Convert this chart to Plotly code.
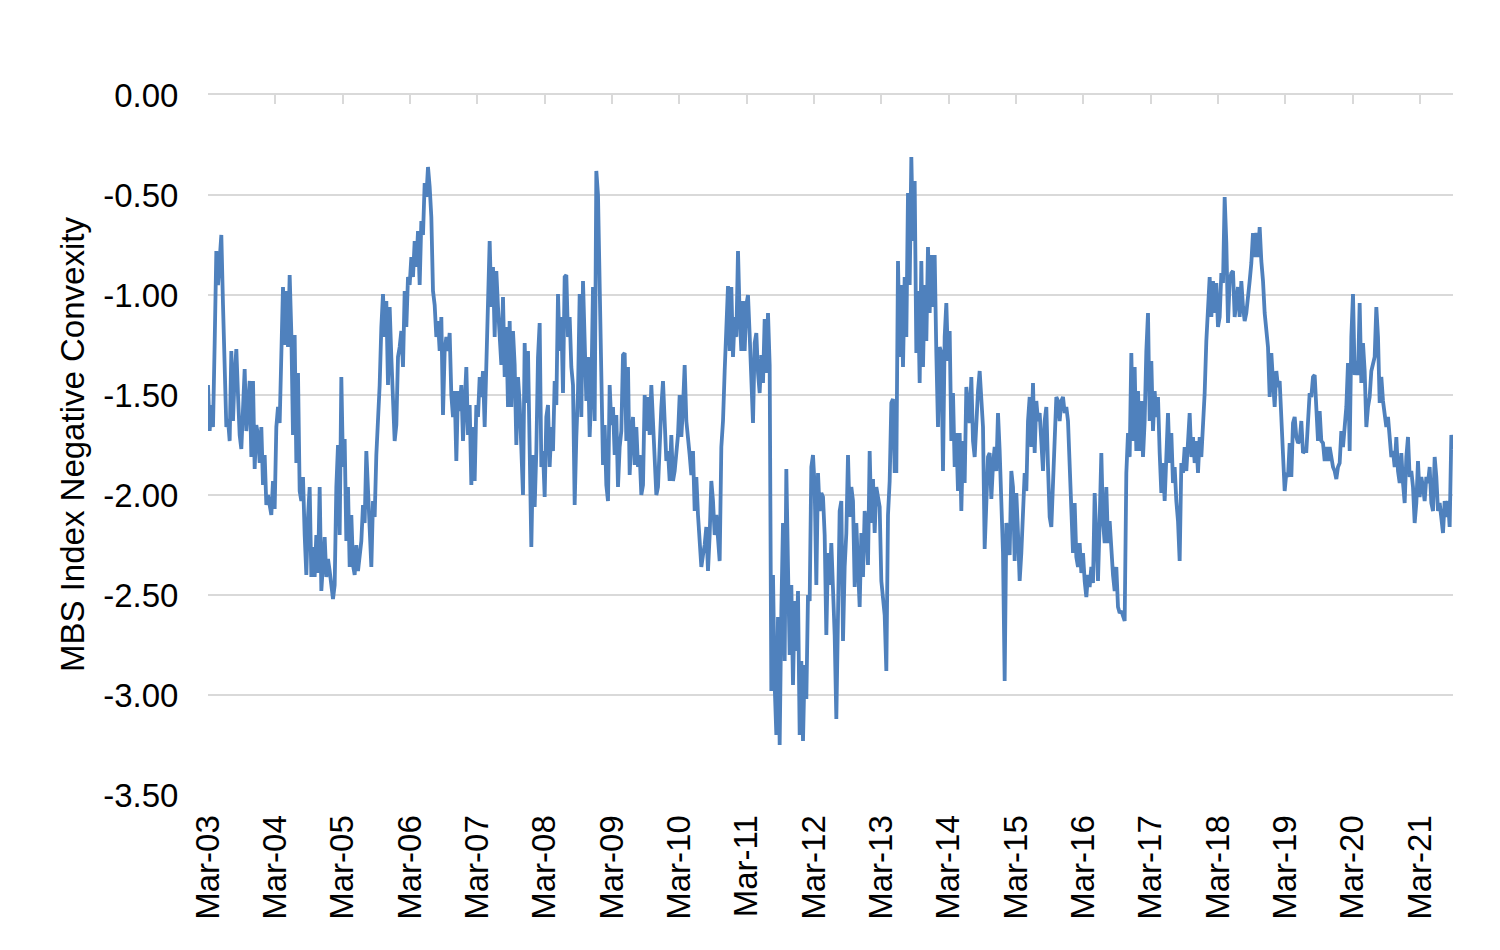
import pandas as pd
import plotly.graph_objects as go

# MBS index negative convexity, sampled every ~9 days from Mar-2003
start_date = "2003-03-01"
step = "217h"

s2003 = [-1.45, -1.68, -1.55, -1.66, -1.24, -0.78, -0.95, -0.80, -0.70, -1.05,
         -1.45, -1.66, -1.62, -1.73, -1.28, -1.63, -1.40, -1.27, -1.50, -1.70,
         -1.77, -1.60, -1.37, -1.68, -1.55, -1.43, -1.81, -1.43, -1.87, -1.65,
         -1.70, -1.84, -1.66, -1.95, -1.80, -2.05, -2.00, -2.06, -2.10, -1.93,
         -2.07, -1.66, -1.56, -1.64, -1.23, -0.96, -1.25, -0.98, -1.26, -0.90,
         -1.19, -1.70, -1.20, -1.84, -1.39, -1.98, -2.03, -1.91, -2.20, -2.40,
         -2.11, -1.96, -2.41, -2.26, -2.41, -2.20, -2.39, -1.96, -2.48, -2.30,
         -2.21, -2.41, -2.32, -2.38, -2.45, -2.52, -2.45, -1.96, -1.75, -2.20,
         -1.41]
s2005 = [-1.86, -1.72, -2.23, -1.96, -2.36, -2.10, -2.35, -2.40, -2.25, -2.38,
         -2.30, -2.23, -2.05, -2.14, -1.78, -1.95, -2.15, -2.36, -2.03, -2.11,
         -1.80, -1.65, -1.45, -1.16, -0.995, -1.21, -1.03, -1.45, -1.06, -1.31,
         -1.55, -1.73, -1.65, -1.31, -1.26, -1.18, -1.36, -0.98, -1.16, -0.91,
         -0.95, -0.81, -0.91, -0.73, -0.86, -0.68, -0.95, -0.63, -0.70, -0.44,
         -0.51, -0.36, -0.46, -0.61, -0.98, -1.05, -1.21, -1.13, -1.28, -1.11,
         -1.60, -1.28, -1.21, -1.28, -1.19, -1.50, -1.61, -1.48, -1.83, -1.48,
         -1.58, -1.45, -1.73, -1.48, -1.36, -1.70, -1.55, -1.95, -1.66, -1.93,
         -1.55]
s2007 = [-1.61, -1.41, -1.51, -1.38, -1.66, -1.33, -1.01, -0.73, -1.06, -0.86,
         -1.21, -0.88, -1.06, -1.25, -1.35, -1.01, -1.41, -1.16, -1.56, -1.13,
         -1.56, -1.18, -1.35, -1.75, -1.41, -1.54, -1.75, -2.00, -1.24, -1.54,
         -1.28, -1.91, -2.26, -1.80, -2.06, -1.78, -1.31, -1.14, -1.86, -1.78,
         -2.01, -1.61, -1.55, -1.86, -1.66, -1.78, -1.43, -1.55, -0.995, -1.28,
         -1.11, -1.49, -0.91, -0.90, -1.21, -1.11, -1.36, -1.45, -2.05, -1.71,
         -1.48, -0.995, -1.61, -0.93, -1.28, -1.53, -1.31, -1.71, -1.48, -0.96,
         -1.63, -0.38, -0.50, -0.95, -1.48, -1.85, -1.65, -1.95, -2.03, -1.45,
         -1.65]
s2009 = [-1.56, -1.80, -1.60, -1.96, -1.76, -1.68, -1.30, -1.29, -1.73, -1.36,
         -1.90, -1.70, -1.61, -1.85, -1.66, -1.86, -1.80, -2.00, -1.95, -1.50,
         -1.68, -1.51, -1.70, -1.45, -1.66, -1.80, -2.00, -1.96, -1.73, -1.56,
         -1.43, -1.66, -1.83, -1.78, -1.93, -1.70, -1.93, -1.88, -1.80, -1.70,
         -1.50, -1.71, -1.56, -1.35, -1.63, -1.70, -1.80, -1.90, -1.78, -2.08,
         -1.91, -2.10, -2.23, -2.36, -2.30, -2.25, -2.16, -2.38, -2.20, -1.93,
         -2.03, -2.20, -2.10, -2.25, -2.33, -1.76, -1.63, -1.38, -1.13, -0.955,
         -1.28, -0.96, -1.31, -1.11, -1.21, -0.78, -1.10, -1.28, -1.03, -1.28,
         -1.05]
s2011 = [-1.00, -1.20, -1.40, -1.64, -1.24, -1.19, -1.39, -1.49, -1.30, -1.44,
         -1.12, -1.39, -1.09, -1.35, -2.98, -2.40, -2.95, -3.20, -2.61, -3.25,
         -2.58, -2.14, -2.83, -1.87, -2.36, -2.80, -2.45, -2.95, -2.53, -2.78,
         -2.48, -3.20, -2.83, -3.23, -2.85, -3.02, -2.50, -2.53, -1.86, -1.80,
         -1.96, -2.45, -1.89, -2.08, -1.99, -2.01, -2.20, -2.70, -2.29, -2.45,
         -2.24, -2.48, -2.70, -3.12, -2.60, -2.08, -2.03, -2.73, -2.36, -2.19,
         -1.80, -2.11, -1.96, -2.03, -2.46, -2.14, -2.36, -2.56, -2.19, -2.41,
         -2.08, -2.16, -2.35, -1.78, -2.14, -1.92, -2.19, -1.96, -2.01, -2.06,
         -2.43]
s2013 = [-2.51, -2.60, -2.88, -2.10, -1.93, -1.54, -1.52, -1.88, -1.88, -0.83,
         -1.31, -0.95, -1.36, -0.91, -1.21, -0.49, -0.95, -0.31, -0.73, -0.43,
         -1.29, -0.98, -1.44, -0.83, -1.36, -0.95, -1.23, -0.76, -1.09, -0.80,
         -1.06, -0.80, -1.29, -1.66, -1.26, -1.29, -1.88, -1.21, -1.04, -1.33,
         -1.18, -1.73, -1.49, -1.86, -1.69, -1.98, -1.69, -2.08, -1.73, -1.94,
         -1.46, -1.56, -1.64, -1.41, -1.73, -1.81, -1.58, -1.48, -1.38, -1.55,
         -1.66, -2.27, -2.02, -1.81, -1.79, -2.02, -1.85, -1.76, -1.88, -1.59,
         -1.78, -2.06, -2.29, -2.93, -2.14, -2.21, -2.30, -1.88, -1.96, -2.33,
         -1.99]
s2015 = [-2.19, -2.43, -2.29, -2.06, -1.89, -1.98, -1.63, -1.51, -1.76, -1.44,
         -1.79, -1.53, -1.63, -1.59, -1.79, -1.88, -1.63, -1.56, -1.86, -2.11,
         -2.16, -1.93, -1.74, -1.51, -1.53, -1.63, -1.53, -1.51, -1.59, -1.56,
         -1.63, -1.84, -2.06, -2.29, -2.04, -2.31, -2.36, -2.24, -2.39, -2.29,
         -2.43, -2.51, -2.40, -2.46, -2.36, -2.44, -1.99, -2.24, -2.43, -2.13,
         -1.79, -2.13, -2.24, -1.96, -2.24, -2.13, -2.29, -2.40, -2.48, -2.36,
         -2.56, -2.59, -2.58, -2.61, -2.63, -1.89, -1.69, -1.81, -1.29, -1.73,
         -1.36, -1.78, -1.48, -1.78, -1.53, -1.81, -1.63, -1.28, -1.09, -1.63,
         -1.33]
s2017 = [-1.68, -1.48, -1.61, -1.51, -1.79, -1.99, -1.84, -2.03, -1.81, -1.59,
         -1.84, -1.69, -1.94, -1.86, -2.03, -2.13, -2.33, -1.84, -1.89, -1.76,
         -1.88, -1.69, -1.59, -1.81, -1.71, -1.84, -1.73, -1.89, -1.71, -1.81,
         -1.66, -1.49, -1.23, -1.01, -0.91, -1.11, -0.93, -1.09, -0.94, -1.16,
         -1.11, -0.89, -0.94, -0.51, -0.74, -1.14, -0.93, -0.89, -0.88, -1.11,
         -1.03, -0.96, -1.11, -0.93, -1.06, -1.13, -1.09, -0.98, -0.93, -0.84,
         -0.69, -0.81, -0.69, -0.81, -0.66, -0.83, -0.93, -1.09, -1.19, -1.26,
         -1.51, -1.29, -1.43, -1.56, -1.38, -1.46, -1.43, -1.59, -1.79, -1.98,
         -1.89]
s2019 = [-1.91, -1.74, -1.91, -1.64, -1.61, -1.71, -1.74, -1.73, -1.63, -1.79,
         -1.78, -1.78, -1.58, -1.49, -1.51, -1.41, -1.40, -1.63, -1.73, -1.58,
         -1.73, -1.74, -1.83, -1.76, -1.83, -1.76, -1.81, -1.86, -1.88, -1.92,
         -1.86, -1.84, -1.68, -1.76, -1.66, -1.56, -1.34, -1.78, -1.21, -0.995,
         -1.40, -1.33, -1.40, -1.04, -1.44, -1.24, -1.38, -1.66, -1.56, -1.51,
         -1.38, -1.34, -1.31, -1.06, -1.21, -1.54, -1.41, -1.53, -1.59, -1.66,
         -1.61, -1.69, -1.81, -1.78, -1.86, -1.71, -1.88, -1.94, -1.79, -1.94,
         -2.04, -1.81, -1.71, -1.91, -1.88, -1.96, -2.14, -2.04, -1.83, -2.01,
         -1.91, -1.96, -2.03, -1.91, -1.94, -1.86, -2.04, -2.08, -1.81, -1.91,
         -2.08, -2.04, -2.14, -2.19, -2.03, -2.11, -2.03, -2.16, -1.70, -1.77]

y_ticks = [0.0, -0.5, -1.0, -1.5, -2.0, -2.5, -3.0, -3.5]
y_tick_text = ["0.00", "-0.50", "-1.00", "-1.50", "-2.00", "-2.50", "-3.00", "-3.50"]
y_title = "MBS Index Negative Convexity"

values = s2003 + s2005 + s2007 + s2009 + s2011 + s2013 + s2015 + s2017 + s2019
dates = pd.date_range(start=start_date, periods=len(values), freq=step)

line_color = "#4F81BD"
grid_color = "#D9D9D9"
font_family = "Liberation Sans, Arial, sans-serif"
fs = 33

fig = go.Figure()
fig.add_trace(go.Scatter(x=dates, y=values, mode="lines",
                         line=dict(color=line_color, width=3.8),
                         showlegend=False, hoverinfo="x+y"))
# invisible twin used only to draw the top axis line with its tick marks
fig.add_trace(go.Scatter(x=dates, y=values, mode="lines", xaxis="x2",
                         line=dict(color="rgba(0,0,0,0)", width=0),
                         showlegend=False, hoverinfo="skip"))

xr = [dates[0], dates[-1]]
fig.update_layout(
    width=1484, height=934,
    paper_bgcolor="white", plot_bgcolor="white",
    margin=dict(l=200, r=39, t=87, b=147),
    font=dict(family=font_family, size=fs, color="#000000"),
    xaxis=dict(
        type="date", range=xr, tick0="2003-03-01", dtick="M12",
        tickformat="%b-%y", tickangle=-90,
        ticks="outside", ticklen=6, tickcolor="rgba(0,0,0,0)",
        showgrid=False, showline=False, zeroline=False,
        tickfont=dict(size=fs),
    ),
    xaxis2=dict(
        type="date", range=xr, overlaying="x", side="top", anchor="y",
        tick0="2003-03-01", dtick="M12",
        ticks="inside", ticklen=9, tickwidth=2, tickcolor=grid_color,
        showticklabels=False, showgrid=False, zeroline=False,
        showline=True, linecolor=grid_color, linewidth=2,
    ),
    yaxis=dict(
        range=[-3.5, 0.0], tickvals=y_ticks, ticktext=y_tick_text,
        showgrid=True, gridcolor=grid_color, gridwidth=2,
        zeroline=False, showline=False,
        ticks="outside", ticklen=22, tickcolor="rgba(0,0,0,0)",
        tickfont=dict(size=fs),
    ),
    annotations=[dict(
        text=y_title, textangle=-90, showarrow=False,
        xref="paper", yref="paper", x=0, y=0.5,
        xanchor="center", yanchor="middle", xshift=-136,
        font=dict(size=fs, family=font_family, color="#000000"),
    )],
)

fig.write_html("out.html")
